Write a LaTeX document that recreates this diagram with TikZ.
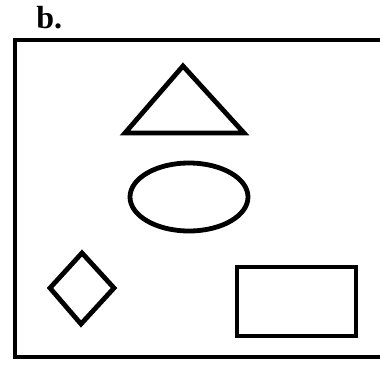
\documentclass[tikz,border=0pt]{standalone}
\usepackage{fontspec}
\setmainfont{Liberation Serif}
\begin{document}
\begin{tikzpicture}[x=1pt, y=-1pt, line width=4.8pt,
    shape line/.style={draw, line join=miter}]
  \useasboundingbox (0,0) rectangle (380,364);
  % panel label
  \node[anchor=base west, inner sep=0pt, font=\fontsize{32}{34}\selectfont\bfseries] (label) at (34,28) {b.};
  % frame, its right side runs off the edge
  \begin{scope}
    \clip (0,0) rectangle (380,364);
    \draw[shape line] (15,40) rectangle (382,357);
  \end{scope}
  % triangle
  \draw[shape line] (183,66) -- (244,133) -- (125,133) -- cycle;
  % ellipse
  \draw[shape line] (189,197) ellipse (59pt and 34pt);
  % diamond
  \draw[shape line] (82,253) -- (114,288) -- (81,324) -- (50,288) -- cycle;
  % rectangle
  \draw[shape line] (237,267) rectangle (356,336);
\end{tikzpicture}
\end{document}
